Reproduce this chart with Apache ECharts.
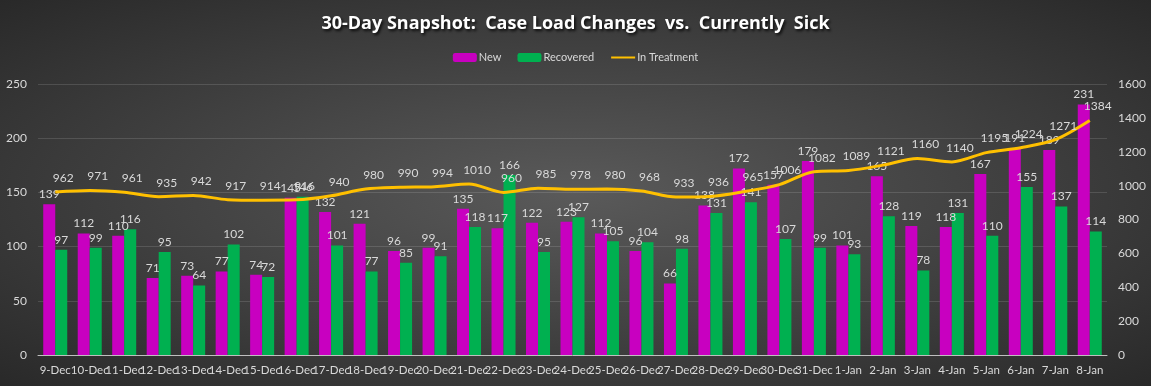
<!DOCTYPE html>
<html>
<head>
<meta charset="utf-8">
<script src="https://cdn.jsdelivr.net/npm/echarts@6/dist/echarts.min.js"></script>
<style>html,body{margin:0;padding:0;background:#333;}#c{width:1151px;height:386px;}</style>
</head>
<body>
<div id="c"></div>
<script>
const categories = ['9-Dec','10-Dec','11-Dec','12-Dec','13-Dec','14-Dec','15-Dec','16-Dec','17-Dec','18-Dec','19-Dec','20-Dec','21-Dec','22-Dec','23-Dec','24-Dec','25-Dec','26-Dec','27-Dec','28-Dec','29-Dec','30-Dec','31-Dec','1-Jan','2-Jan','3-Jan','4-Jan','5-Jan','6-Jan','7-Jan','8-Jan'];
const newCases = [139,112,110,71,73,77,74,145,132,121,96,99,135,117,122,123,112,96,66,138,172,157,179,101,165,119,118,167,191,189,231];
const recovered = [97,99,116,95,64,102,72,146,101,77,85,91,118,166,95,127,105,104,98,131,141,107,99,93,128,78,131,110,155,137,114];
const inTreatment = [962,971,961,935,942,917,914,916,940,980,990,994,1010,960,985,978,980,968,933,936,965,1006,1082,1089,1121,1160,1140,1195,1224,1271,1384];
const leftTicks = {min:0, max:250, interval:50};
const rightTicks = {min:0, max:1600, interval:200};

const FONT = 'Lato, "Open Sans", sans-serif';
const TXT = '#d9d9d9';
const chart = echarts.init(document.getElementById('c'), null, {renderer:'canvas'});
chart.setOption({
  backgroundColor: '#2a2a2a',
  animation: false,
  graphic: [{
    type: 'rect', z: -10, silent: true,
    x: 0, y: 0, scaleX: 1151/386,
    shape: {x: 0, y: 0, width: 386, height: 386},
    style: {
      fill: new echarts.graphic.RadialGradient(0.5, 0.5, 0.75, [
        {offset: 0, color: '#5a5a5a'},
        {offset: 1, color: '#262626'}
      ])
    }
  }],
  title: {
    text: '30-Day Snapshot:  Case Load Changes  vs.  Currently  Sick',
    left: 'center', top: 10,
    textStyle: {
      color: '#ffffff', fontSize: 18, fontWeight: 'bold',
      fontFamily: '"Open Sans", sans-serif',
      textShadowColor: 'rgba(0,0,0,0.85)', textShadowBlur: 3, textShadowOffsetX: 1.5, textShadowOffsetY: 1.5
    }
  },
  legend: {
    top: 47, left: 'center', itemWidth: 24, itemHeight: 9, itemGap: 16,
    textStyle: {color: TXT, fontSize: 11, fontFamily: FONT, padding:[0,0,0,-3]},
    data: ['New', 'Recovered', 'In Treatment']
  },
  grid: {left: 38, right: 44, top: 84, bottom: 31, containLabel: false},
  xAxis: {
    type: 'category', data: categories,
    axisLine: {lineStyle: {color: '#bfbfbf', width: 1}},
    axisTick: {show: false},
    axisLabel: {color: TXT, fontSize: 11.5, fontFamily: FONT, interval: 0, margin: 9}
  },
  yAxis: [{
    type: 'value', min: leftTicks.min, max: leftTicks.max, interval: leftTicks.interval,
    axisLine: {show: false}, axisTick: {show: false},
    axisLabel: {color: TXT, fontSize: 12, fontFamily: FONT, margin: 11},
    splitLine: {lineStyle: {color: 'rgba(255,255,255,0.13)', width: 1}}
  }, {
    type: 'value', min: rightTicks.min, max: rightTicks.max, interval: rightTicks.interval,
    axisLine: {show: false}, axisTick: {show: false},
    axisLabel: {color: TXT, fontSize: 12, fontFamily: FONT, margin: 11, formatter: v => String(v)},
    splitLine: {show: false}
  }],
  series: [{
    name: 'New', type: 'bar', data: newCases, barWidth: 12, barGap: '0%',
    itemStyle: {color: '#c800c0'},
    label: {show: true, position: 'top', distance: 4, color: TXT, fontSize: 12, fontFamily: FONT}
  }, {
    name: 'Recovered', type: 'bar', data: recovered, barWidth: 12, barGap: '0%',
    itemStyle: {color: '#00b050'},
    label: {show: true, position: 'top', distance: 4, color: TXT, fontSize: 12, fontFamily: FONT}
  }, {
    name: 'In Treatment', type: 'line', yAxisIndex: 1, data: inTreatment,
    smooth: 0.3, symbol: 'circle', symbolSize: 2, showSymbol: true, showAllSymbol: true, z: 5,
    lineStyle: {color: '#ffc000', width: 3},
    itemStyle: {color: 'rgba(0,0,0,0)', borderWidth: 0},
    label: {show: true, position: 'top', distance: 7, offset: [8, 0], color: TXT, fontSize: 12, fontFamily: FONT}
  }]
});
</script>
</body>
</html>
